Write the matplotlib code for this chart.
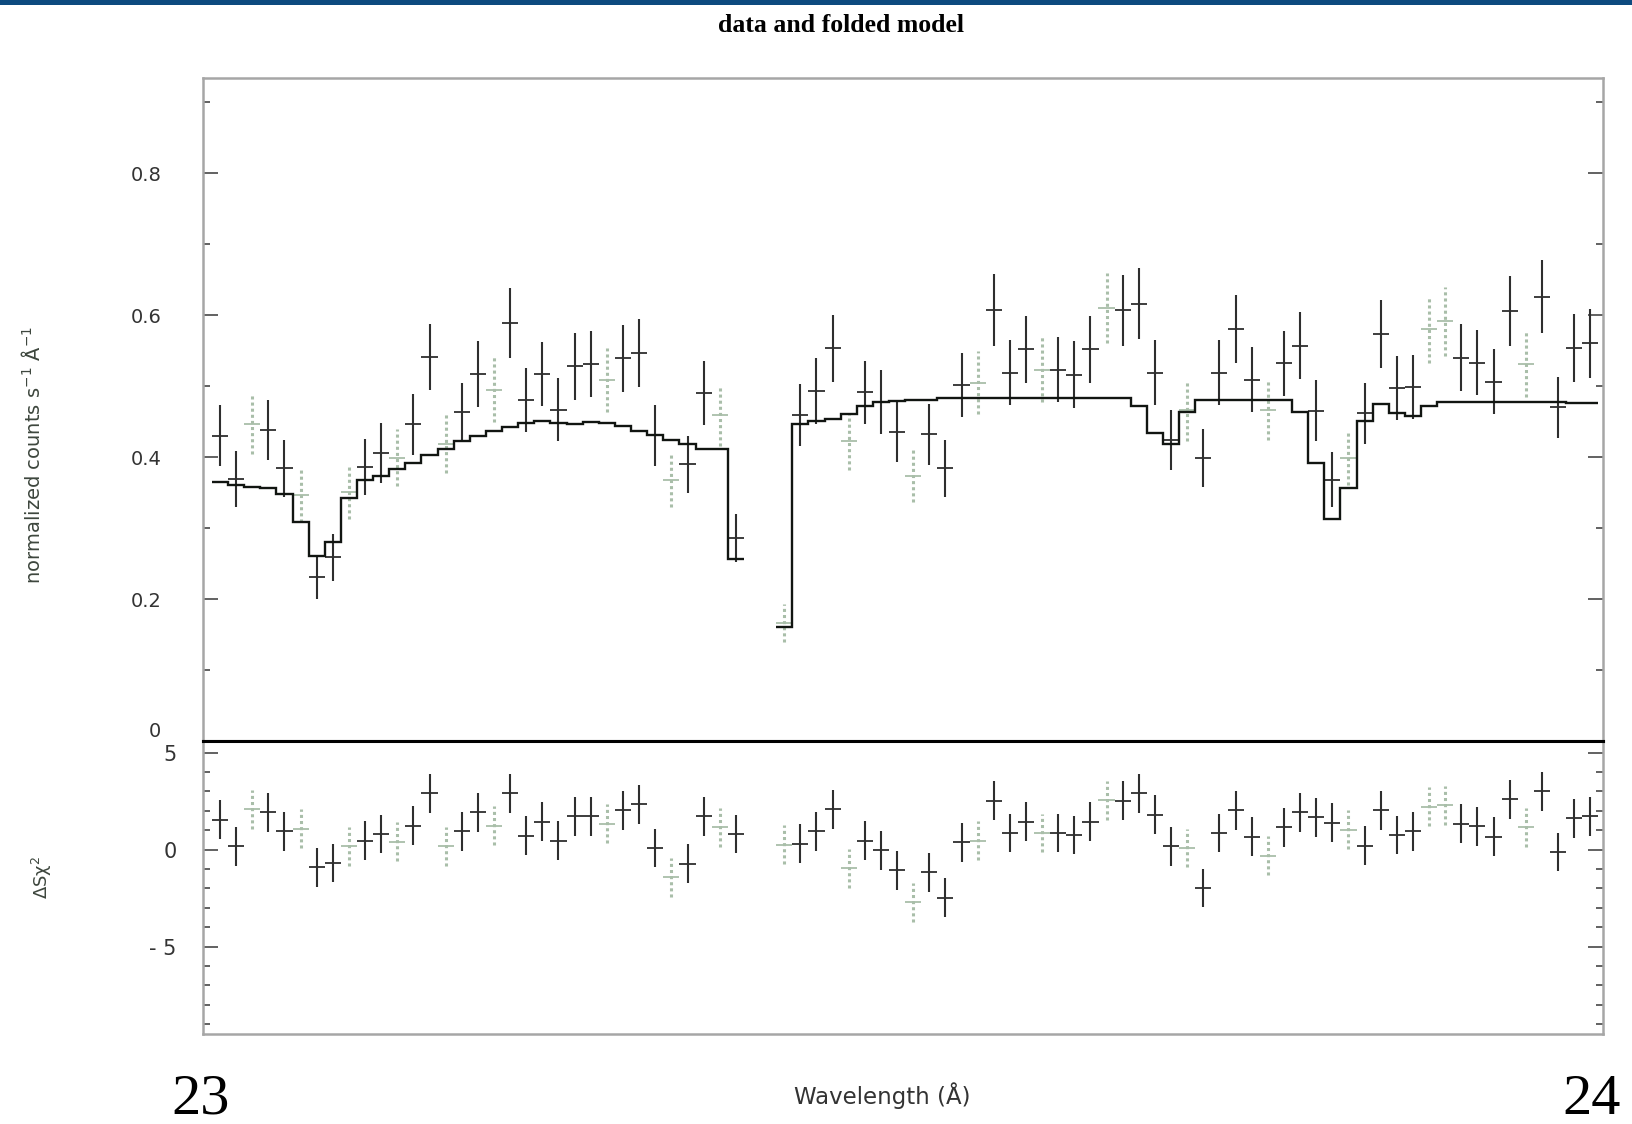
import numpy as np
import matplotlib
matplotlib.use('Agg')
import matplotlib.pyplot as plt
import matplotlib.ticker as ticker
from matplotlib.patches import Rectangle

# Grouped channels (bin centres in Angstrom); two channels near 23.39-23.40 are ignored
wave = [23.0121, 23.0237, 23.0352, 23.0467, 23.0582, 23.0697, 23.0812, 23.0927,
        23.1042, 23.1158, 23.1273, 23.1388, 23.1503, 23.1618, 23.1733, 23.1849,
        23.1964, 23.2079, 23.2194, 23.2309, 23.2424, 23.2539, 23.2655, 23.2770,
        23.2885, 23.3000, 23.3115, 23.3230, 23.3345, 23.3461, 23.3576, 23.3691,
        23.3806,
        23.4151, 23.4267, 23.4382, 23.4497, 23.4612, 23.4727, 23.4842, 23.4957,
        23.5073, 23.5188, 23.5303, 23.5418, 23.5533, 23.5648, 23.5763, 23.5879,
        23.5994, 23.6109, 23.6224, 23.6339, 23.6454, 23.6570, 23.6685, 23.6800,
        23.6915, 23.7030, 23.7145, 23.7260, 23.7376, 23.7491, 23.7606, 23.7721,
        23.7836, 23.7951, 23.8066, 23.8182, 23.8297, 23.8412, 23.8527, 23.8642,
        23.8757, 23.8873, 23.8988, 23.9103, 23.9218, 23.9333, 23.9448, 23.9563,
        23.9679, 23.9794, 23.9909]

# normalized counts s^-1 A^-1
rate = [0.430, 0.369, 0.447, 0.438, 0.384, 0.347, 0.231, 0.259,
        0.351, 0.386, 0.406, 0.399, 0.446, 0.541, 0.419, 0.463,
        0.517, 0.495, 0.589, 0.480, 0.517, 0.467, 0.528, 0.531,
        0.509, 0.539, 0.546, 0.431, 0.368, 0.390, 0.490, 0.459,
        0.286,
        0.166, 0.459, 0.493, 0.553, 0.422, 0.491, 0.478, 0.435,
        0.374, 0.432, 0.384, 0.501, 0.505, 0.607, 0.519, 0.552,
        0.523, 0.523, 0.516, 0.552, 0.610, 0.607, 0.616, 0.519,
        0.424, 0.466, 0.399, 0.519, 0.580, 0.509, 0.467, 0.532,
        0.557, 0.465, 0.368, 0.399, 0.462, 0.573, 0.497, 0.499,
        0.580, 0.591, 0.540, 0.533, 0.506, 0.606, 0.531, 0.626,
        0.470, 0.554, 0.560]

rate_err = [0.043, 0.039, 0.042, 0.042, 0.040, 0.038, 0.031, 0.033,
            0.038, 0.040, 0.042, 0.040, 0.043, 0.047, 0.042, 0.041,
            0.046, 0.046, 0.049, 0.045, 0.045, 0.044, 0.047, 0.047,
            0.045, 0.047, 0.048, 0.043, 0.039, 0.040, 0.045, 0.043,
            0.034,
            0.027, 0.044, 0.046, 0.047, 0.040, 0.045, 0.045, 0.042,
            0.038, 0.043, 0.040, 0.045, 0.044, 0.051, 0.046, 0.047,
            0.046, 0.046, 0.047, 0.047, 0.049, 0.050, 0.050, 0.046,
            0.042, 0.043, 0.041, 0.046, 0.048, 0.046, 0.043, 0.046,
            0.047, 0.043, 0.039, 0.039, 0.043, 0.048, 0.045, 0.045,
            0.047, 0.049, 0.047, 0.046, 0.046, 0.049, 0.046, 0.051,
            0.043, 0.048, 0.048]

# folded model, one value per channel
model = [0.365, 0.361, 0.358, 0.356, 0.348, 0.309, 0.261, 0.281,
         0.343, 0.367, 0.374, 0.383, 0.392, 0.403, 0.412, 0.422,
         0.430, 0.437, 0.443, 0.448, 0.451, 0.448, 0.446, 0.450,
         0.448, 0.444, 0.437, 0.431, 0.424, 0.418, 0.412, 0.411,
         0.257,
         0.160, 0.446, 0.451, 0.454, 0.461, 0.472, 0.477, 0.479,
         0.481, 0.481, 0.483, 0.483, 0.483, 0.483, 0.483, 0.483,
         0.483, 0.483, 0.483, 0.483, 0.483, 0.483, 0.472, 0.434,
         0.419, 0.464, 0.480, 0.480, 0.480, 0.480, 0.480, 0.480,
         0.464, 0.392, 0.313, 0.357, 0.451, 0.475, 0.462, 0.458,
         0.472, 0.477, 0.477, 0.477, 0.477, 0.477, 0.477, 0.477,
         0.477, 0.476, 0.476]

# residuals, sign(data - model) * chi
delchi = [1.55, 0.17, 2.07, 1.93, 0.95, 1.07, -0.90, -0.69,
          0.17, 0.47, 0.81, 0.41, 1.24, 2.90, 0.17, 0.95,
          1.93, 1.24, 2.90, 0.72, 1.45, 0.47, 1.72, 1.72,
          1.34, 2.03, 2.33, 0.09, -1.43, -0.72, 1.72, 1.16,
          0.81,
          0.26, 0.31, 0.95, 2.07, -0.95, 0.47, -0.03, -1.07,
          -2.71, -1.16, -2.47, 0.38, 0.47, 2.53, 0.86, 1.45,
          0.86, 0.86, 0.76, 1.45, 2.55, 2.53, 2.90, 1.81,
          0.17, 0.09, -1.98, 0.86, 2.03, 0.66, -0.31, 1.16,
          1.93, 1.67, 1.38, 1.03, 0.21, 2.03, 0.76, 0.95,
          2.21, 2.29, 1.33, 1.21, 0.66, 2.59, 1.16, 3.00,
          -0.12, 1.62, 1.72]

# channels drawn in the pale plotting colour
faint = [0, 0, 1, 0, 0, 1, 0, 0,
         1, 0, 0, 1, 0, 0, 1, 0,
         0, 1, 0, 0, 0, 0, 0, 0,
         1, 0, 0, 0, 1, 0, 0, 1,
         0,
         1, 0, 0, 0, 1, 0, 0, 0,
         1, 0, 0, 0, 1, 0, 0, 0,
         1, 0, 0, 0, 1, 0, 0, 0,
         0, 1, 0, 0, 0, 0, 1, 0,
         0, 0, 0, 1, 0, 0, 0, 0,
         1, 1, 0, 0, 0, 0, 1, 0,
         0, 0, 0]

HALF_BIN = 0.00576
DELCHI_ERR = 1.0

DARK = '#2e2e2e'
PALE = '#a9bea9'
FRAME = '#a6a6a6'
LABEL = '#3d463d'

wave = np.asarray(wave)
rate = np.asarray(rate)
rate_err = np.asarray(rate_err)
model = np.asarray(model)
delchi = np.asarray(delchi)
faint = np.asarray(faint, dtype=bool)


def draw_crosses(ax, x, y, yerr):
    """Data points as plain crosses: bin width horizontally, 1 sigma vertically."""
    for sel, color, ls, lw in ((~faint, DARK, 'solid', 1.5),
                               (faint, PALE, (0, (1, 1)), 2.2)):
        ax.vlines(x[sel], y[sel] - yerr[sel], y[sel] + yerr[sel],
                  colors=color, linestyles=ls, linewidth=lw, zorder=3)
        ax.hlines(y[sel], x[sel] - HALF_BIN, x[sel] + HALF_BIN,
                  colors=color, linewidth=1.3, zorder=3)


def style_axis(ax, pad, size):
    for side in ('left', 'right', 'top', 'bottom'):
        ax.spines[side].set_color(FRAME)
        ax.spines[side].set_linewidth(1.8)
    ax.tick_params(axis='y', which='both', direction='in', left=True, right=True,
                   colors='#555555', labelcolor='#333333', labelsize=size, pad=pad)
    ax.tick_params(axis='y', which='major', length=11, width=1.3)
    ax.tick_params(axis='y', which='minor', length=5, width=1.3)
    ax.tick_params(axis='x', which='both', bottom=False, top=False,
                   labelbottom=False)


fig = plt.figure(figsize=(16.32, 11.24), dpi=100)
fig.patch.set_facecolor('white')

W, H = 1632.0, 1124.0
ax_top = fig.add_axes([203 / W, 1 - 741 / H, 1400 / W, 663 / H])
ax_bot = fig.add_axes([203 / W, 1 - 1034 / H, 1400 / W, 293 / H], sharex=ax_top)

# top panel: data with folded model histogram
draw_crosses(ax_top, wave, rate, rate_err)
breaks = np.where(np.diff(wave) > 3 * HALF_BIN)[0] + 1
for seg in np.split(np.arange(len(wave)), breaks):
    edges = np.append(wave[seg] - HALF_BIN, wave[seg][-1] + HALF_BIN)
    ax_top.stairs(model[seg], edges, baseline=None, color='#111511',
                  linewidth=1.7, zorder=4)

ax_top.set_xlim(23.0, 24.0)
ax_top.set_ylim(0, 0.934)
ax_top.yaxis.set_major_locator(ticker.FixedLocator([0, 0.2, 0.4, 0.6, 0.8]))
ax_top.yaxis.set_minor_locator(ticker.MultipleLocator(0.1))
ax_top.yaxis.set_major_formatter(
    ticker.FuncFormatter(lambda v, _: '0' if abs(v) < 1e-9 else f'{v:.1f}'))
style_axis(ax_top, pad=30, size=14)
ax_top.spines['bottom'].set_color('black')
ax_top.spines['bottom'].set_linewidth(2.2)
# lift the zero label a little so it clears the residual panel's "5"
ax_top.yaxis.get_major_ticks()[0].label1.set_verticalalignment('bottom')

# bottom panel: residuals
draw_crosses(ax_bot, wave, delchi, np.full_like(delchi, DELCHI_ERR))
ax_bot.set_ylim(-9.5, 5.6)
ax_bot.yaxis.set_major_locator(ticker.FixedLocator([-5, 0, 5]))
ax_bot.yaxis.set_minor_locator(ticker.MultipleLocator(1))
ax_bot.yaxis.set_major_formatter(
    ticker.FuncFormatter(lambda v, _: f'- {abs(v):.0f}' if v < 0 else f'{v:.0f}'))
style_axis(ax_bot, pad=19, size=15)
ax_bot.spines['top'].set_color('black')
ax_bot.spines['top'].set_linewidth(2.2)

# labels and banner
fig.patches.append(Rectangle((0, 1 - 5 / H), 1, 5 / H, transform=fig.transFigure,
                             facecolor='#0d4a7f', edgecolor='none'))
fig.text(841 / W, 1 - 25 / H, 'data and folded model', ha='center', va='center',
         family='Liberation Serif', weight='bold', size=18.5)
fig.text(33 / W, 1 - 455 / H, 'normalized counts s$^{-1}$ Å$^{-1}$',
         rotation=90, ha='center', va='center', size=14, color=LABEL)
fig.text(42 / W, 1 - 877 / H, 'ΔSχ$^{2}$', rotation=90, ha='center',
         va='center', size=13, color=LABEL)
fig.text(882 / W, 1 - 1096 / H, 'Wavelength (Å)', ha='center', va='center',
         size=16.5, color='#333333')
fig.text(201 / W, 1 - 1100 / H, '23', ha='center', va='center',
         family='Liberation Serif', size=42)
fig.text(1592 / W, 1 - 1100 / H, '24', ha='center', va='center',
         family='Liberation Serif', size=42)

fig.savefig('out.png', dpi=100, facecolor='white')
plt.close(fig)
